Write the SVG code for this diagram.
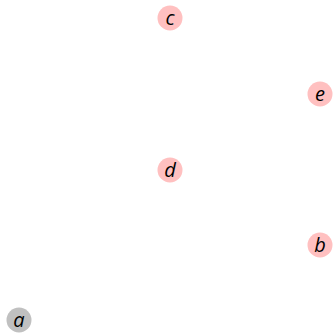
<svg xmlns="http://www.w3.org/2000/svg" width="336" height="333" viewBox="0 0 336 333">
<style>
.n{fill:#ffc0c0;}
.g{fill:#c0c0c0;}
.t{font-family:"Open Sans","DejaVu Sans",sans-serif;font-style:italic;font-size:20px;fill:#000;text-anchor:middle;dominant-baseline:central;}
</style>
<rect width="336" height="333" fill="#fff"/>
<g id="connectors"></g>
<g id="node-c"><circle class="n" cx="170" cy="18" r="12.5"/><text class="t" x="170" y="17">c</text></g>
<g id="node-e"><circle class="n" cx="320" cy="94" r="12.5"/><text class="t" x="320" y="93">e</text></g>
<g id="node-d"><circle class="n" cx="170" cy="170" r="12.5"/><text class="t" x="170" y="169">d</text></g>
<g id="node-b"><circle class="n" cx="320" cy="245" r="12.5"/><text class="t" x="320" y="244">b</text></g>
<g id="node-a"><circle class="g" cx="19" cy="320" r="12.5"/><text class="t" x="19" y="319">a</text></g>
</svg>
